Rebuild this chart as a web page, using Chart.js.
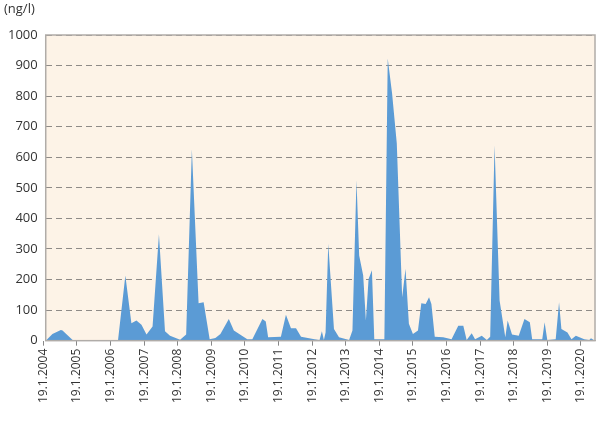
<!DOCTYPE html>
<html><head><meta charset="utf-8">
<script src="https://cdn.jsdelivr.net/npm/chart.js@4"></script>
<style>html,body{margin:0;padding:0;background:#fff}#w{width:600px;height:421px}</style>
</head><body><div id="w"><canvas id="c"></canvas></div>
<script>
const years = [2004.12,2004.32,2004.57,2004.62,2004.92,2005.02,2006.27,2006.49,2006.67,2006.82,2006.97,2007.12,2007.30,2007.49,2007.67,2007.82,2008.12,2008.30,2008.47,2008.67,2008.82,2009.00,2009.17,2009.32,2009.57,2009.72,2010.12,2010.27,2010.57,2010.67,2010.74,2011.12,2011.27,2011.42,2011.57,2011.72,2012.12,2012.27,2012.34,2012.40,2012.45,2012.53,2012.70,2012.85,2013.15,2013.25,2013.37,2013.45,2013.57,2013.65,2013.73,2013.83,2013.90,2014.20,2014.30,2014.43,2014.57,2014.73,2014.83,2014.93,2015.05,2015.20,2015.30,2015.43,2015.53,2015.60,2015.70,2015.95,2016.20,2016.40,2016.55,2016.65,2016.80,2016.90,2017.10,2017.25,2017.35,2017.48,2017.63,2017.80,2017.87,2018.00,2018.20,2018.37,2018.53,2018.60,2018.90,2018.97,2019.05,2019.30,2019.40,2019.47,2019.65,2019.77,2019.90,2020.15,2020.30,2020.35,2020.47];
const values = [0,22,35,33,2,0,0,213,57,66,52,20,46,348,31,16,3,20,626,122,126,5,9,22,71,33,5,5,71,63,11,13,85,41,41,13,5,2,31,2,27,317,38,11,2,33,525,279,213,66,202,230,5,5,923,809,645,142,235,55,22,33,122,120,142,120,13,11,5,49,49,2,24,5,16,2,13,639,131,11,66,20,16,71,60,5,5,60,2,5,126,38,27,5,16,5,2,8,0];
const yTicks = [0,100,200,300,400,500,600,700,800,900,1000];
const yTitle = '(ng/l)';
const pts = years.map((x,i)=>({x, y: values[i]}));
const bg = {id:'bg', beforeDraw(c){const a=c.chartArea,g=c.ctx;g.save();g.fillStyle='#fdf3e7';g.fillRect(a.left,a.top,a.right-a.left,a.bottom-a.top);g.restore();},
 afterDraw(c){const a=c.chartArea,g=c.ctx;g.save();g.strokeStyle='#b0aca8';g.lineWidth=1.5;g.strokeRect(a.left,a.top,a.right-a.left,a.bottom-a.top);
 g.fillStyle='#333';g.font='13px "Open Sans"';g.textBaseline='top';g.fillText(yTitle,4,3);g.restore();}};
new Chart(document.getElementById('c'),{type:'line',plugins:[bg],
 data:{datasets:[{data:pts,fill:'origin',backgroundColor:'#5b9bd5',borderWidth:0,pointRadius:0,tension:0}]},
 options:{responsive:true,maintainAspectRatio:false,animation:false,
  layout:{padding:{top:35,right:5,left:0,bottom:15}},
  plugins:{legend:{display:false},tooltip:{enabled:false}},
  scales:{
   x:{type:'linear',min:2004.12,max:2020.47,afterBuildTicks(s){s.ticks=[];for(let y=2004;y<=2020;y++)s.ticks.push({value:y+0.05});},
     grid:{display:true,drawOnChartArea:false,tickLength:5,color:'#888'},border:{color:'#b0aca8'},
     ticks:{minRotation:90,maxRotation:90,color:'#333',font:{family:'Open Sans',size:12},callback:v=>'19.1.'+Math.round(v-0.05)}},
   y:{min:0,max:1000,afterBuildTicks(s){s.ticks=yTicks.map(v=>({value:v}));},
     grid:{color:'#8f8b87',lineWidth:1,drawTicks:false},border:{display:false,dash:[6,4]},
     ticks:{padding:8,color:'#333',font:{family:'Open Sans',size:13},callback:v=>String(v)}}
  }}});
</script></body></html>
